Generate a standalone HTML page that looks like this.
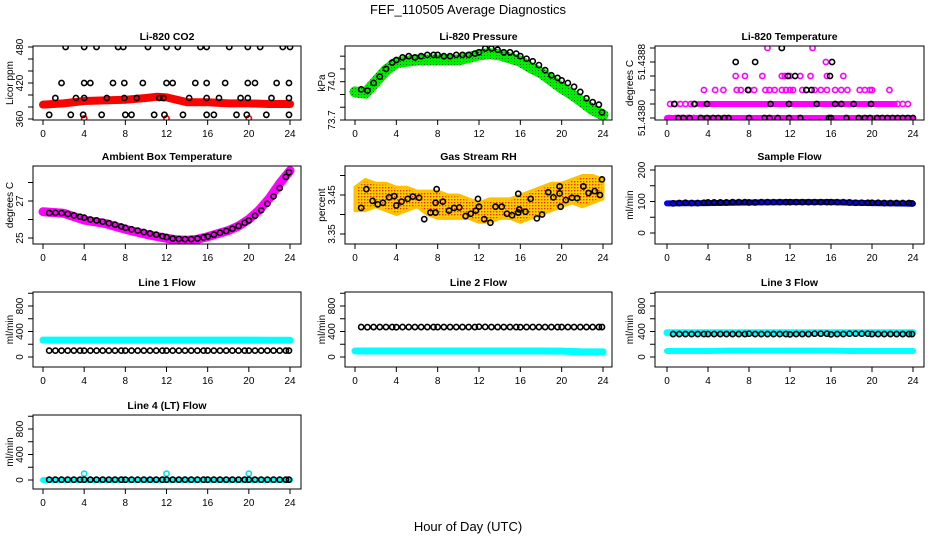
<!DOCTYPE html>
<html><head><meta charset="utf-8"><style>
html,body{margin:0;padding:0;background:#fff;}
svg{display:block;font-family:"Liberation Sans",Arial,sans-serif;}
</style></head><body>
<svg id="chart" width="936" height="540" viewBox="0 0 936 540" xmlns="http://www.w3.org/2000/svg">
<defs>
<pattern id="rhpat" width="3" height="3" patternUnits="userSpaceOnUse">
<rect width="3" height="3" fill="#ffd000"/><rect x="1" y="1" width="1.4" height="1.4" fill="#f03000"/></pattern>
<pattern id="prespat" width="3" height="3" patternUnits="userSpaceOnUse">
<rect width="3" height="3" fill="#00ee00"/><rect x="1" y="1" width="1" height="1" fill="#106010"/></pattern>
</defs>
<text x="468" y="14" font-size="13" text-anchor="middle">FEF_110505  Average Diagnostics</text>
<text x="468" y="531" font-size="13" text-anchor="middle">Hour of Day (UTC)</text>
</svg>
<script>
// ---- data ----
const blackHours=[0.6,1.2,1.8,2.4,3.0,3.6,4.0,4.6,5.2,5.8,6.4,7.0,7.6,8.0,8.6,9.2,9.8,10.4,11.0,11.6,12.0,12.6,13.2,13.8,14.4,15.0,15.6,16.0,16.6,17.2,17.8,18.4,19.0,19.6,20.0,20.6,21.2,21.8,22.4,23.0,23.6,23.9];
const lineHours=[0,2,4,6,8,10,12,14,16,18,20,22,24];
// CO2
const co2RedHours=[0,2,4,6,8,10,11,12,13,14,16,18,20,22,24];
const co2RedVals=[384,386,390,391,392,395,397,396,392,388,388,386,386,385,385];
const co2RedCircleHours=[4,12,20];
const co2RedCircleVals=[361,361,361];
const co2Lvl480=[2.2,4.0,5.2,7.3,7.8,10.2,12.0,13.1,15.3,15.9,18.1,19.9,21.1,23.3,24.0];
const co2Lvl420=[1.8,4.0,4.6,6.8,7.9,9.7,12.0,12.6,14.8,15.9,17.7,19.9,20.6,22.7,23.9];
const co2Lvl395=[1.2,3.2,4.0,6.2,7.9,9.1,11.3,11.7,14.2,15.9,17.1,19.2,19.9,22.2,23.9];
const co2Lvl367=[0.6,2.7,3.9,5.7,8.0,8.6,10.8,11.8,13.6,15.9,16.6,18.8,19.8,21.7,23.9];
// Pressure
const presHours=[0,1,2,3,4,6,8,10,12,13,14,16,17,18,19,20,21,22,23,24];
const presVals=[73.92,73.91,74.0,74.09,74.15,74.17,74.17,74.17,74.21,74.22,74.21,74.16,74.11,74.07,74.01,73.95,73.90,73.84,73.78,73.74];
const presBlack=[73.94,73.93,73.99,74.04,74.1,74.15,74.17,74.19,74.2,74.19,74.2,74.21,74.21,74.21,74.2,74.2,74.21,74.21,74.21,74.22,74.23,74.26,74.26,74.25,74.23,74.23,74.22,74.2,74.18,74.16,74.13,74.09,74.05,74.03,74.01,73.99,73.96,73.92,73.87,73.84,73.82,73.76];
// Li-820 temperature (level index, 0 = 51.4380, step 0.0002)
const tempMag0=[0.2,0.8,1.4,2.0,2.6,3.2];
const tempMag1=[0.3,0.8,1.3,1.8,2.3,2.6,22.5,23.0,23.5];
const tempMag2=[3.6,4.7,5.5,6.8,7.2,8.0,8.5,9.6,10.0,10.5,11.2,11.6,12.0,12.3,13.2,13.6,14.4,15.0,15.6,16.4,17.0,17.6,18.8,19.3,19.8,20.0,21.7];
const tempMag3=[6.7,7.6,9.3,11.2,11.5,12.0,13.0,14.0,15.6,17.2];
const tempMag4=[15.5];
const tempMag5=[9.8,14.2];
const tempBlk0=[1.1,1.6,2.2,3.3,3.9,4.5,5.0,5.6,6.0,8.0,9.5,10.0,10.8,11.9,13.0,15.8,16.0,17.5,18.7,19.3,19.8,20.5,21.0,21.5,22.0,22.5,23.0,23.5,24.0];
const tempBlk1=[0.7,2.7,3.9,10.1,11.9,14.6,16.4,17.0,18.2,19.9];
const tempBlk2=[7.9,13.6,14.1];
const tempBlk3=[11.8,12.5,15.9];
const tempBlk4=[6.7,8.6,16.1];
const tempBlk5=[11.2];
const tempSeg0=[0,24];
const tempSeg1=[3.1,22.2];
// Ambient
const ambHours=[0,2,4,6,8,10,12,13,14,15,16,18,19,20,21,22,23,24];
const ambVals=[26.42,26.34,25.97,25.79,25.47,25.2,24.98,24.9,24.88,24.93,25.07,25.4,25.65,26.01,26.51,27.15,27.95,28.64];
const ambBlack=[26.35,26.36,26.35,26.3,26.22,26.15,26.1,26.0,25.95,25.88,25.8,25.72,25.62,25.55,25.47,25.4,25.32,25.25,25.18,25.1,25.05,24.97,24.95,24.94,24.94,24.97,25.03,25.08,25.18,25.28,25.38,25.5,25.65,25.82,25.95,26.2,26.5,26.85,27.25,27.7,28.3,28.55];
// RH
const rhBandHours=[0,1,2,3,4,5,6,7,8,9,10,11,12,13,14,15,16,17,18,19,20,21,22,23,24];
const rhUpper=[3.47,3.49,3.48,3.48,3.47,3.47,3.46,3.46,3.46,3.45,3.45,3.44,3.43,3.44,3.44,3.44,3.45,3.46,3.47,3.48,3.48,3.49,3.50,3.50,3.49];
const rhLower=[3.41,3.41,3.42,3.41,3.40,3.41,3.42,3.40,3.39,3.39,3.39,3.39,3.38,3.38,3.39,3.39,3.38,3.39,3.40,3.41,3.42,3.43,3.42,3.43,3.44];
const rhBlackHours=[0.6,1.1,1.7,2.2,2.7,3.3,3.8,4.0,4.5,5.1,5.6,6.2,6.7,7.3,7.8,7.8,7.9,8.5,9.1,9.6,10.1,10.7,11.2,11.7,11.9,12.0,12.5,13.1,13.6,14.2,14.7,15.2,15.8,15.8,15.9,16.5,17.0,17.6,18.1,18.7,19.2,19.8,19.8,19.9,20.4,21.0,21.5,22.1,22.6,23.2,23.7,23.9];
const rhBlackVals=[3.417,3.465,3.435,3.426,3.43,3.444,3.447,3.423,3.433,3.44,3.446,3.443,3.388,3.405,3.405,3.43,3.465,3.433,3.41,3.417,3.418,3.396,3.402,3.41,3.44,3.42,3.388,3.379,3.42,3.42,3.402,3.398,3.405,3.453,3.413,3.407,3.44,3.39,3.40,3.457,3.444,3.472,3.454,3.42,3.437,3.443,3.442,3.472,3.455,3.46,3.45,3.49];
// Sample flow
const sampleHours=[0,4,8,12,16,18,20,22,24];
const sampleVals=[94,95,97,98,98,96,95,94,93];
const sampleBlack=[94,95,96,95,95,96,97,97,97,97,98,98,98,97,97,98,98,98,98,98,98,98,98,98,98,98,98,98,98,98,97,96,96,96,96,96,95,95,95,95,95,94];
// Line flows
const l1Cyan=[265,265,265,265,265,265,265,265,265,265,265,262,262];
const l1Black=[100,100,100,100,100,100,100,100,100,100,100,100,100,100,100,100,100,100,100,100,100,100,100,100,100,100,100,100,100,100,100,100,100,100,100,100,100,100,100,100,100,100];
const l2Cyan=[95,95,95,95,95,95,95,95,95,95,92,80,80];
const l2Black=[470,468,470,470,470,470,468,470,470,470,470,470,470,470,470,470,470,470,470,470,475,472,470,470,470,470,470,468,470,470,470,470,470,470,470,470,470,470,470,470,470,470];
const l3CyanHi=[380,380,380,380,380,380,380,380,380,380,380,380,380];
const l3CyanLo=[95,95,95,100,100,100,100,100,100,95,95,95,95];
const l3Black=[360,360,360,360,360,360,360,360,360,360,360,360,360,365,360,360,360,360,360,360,355,360,360,360,365,365,365,355,360,360,365,365,365,365,360,360,360,360,360,360,360,360];
const l4Cyan=[0,0,0,0,0,0,0,0,0,0,0,0,0];
const l4CyanSpikeHours=[4,12,20];
const l4CyanSpikeVals=[100,100,100];
const l4Black=[5,5,5,5,5,5,5,5,5,5,5,5,5,5,5,5,5,5,5,5,5,5,5,5,5,5,5,5,5,5,5,5,5,5,5,5,5,5,5,5,5,5];

// ---- drawing ----
const NS='http://www.w3.org/2000/svg';
const svg=document.getElementById('chart');
function mk(tag,attrs,name,parent){
  const el=document.createElementNS(NS,tag);
  for(const k in attrs) el.setAttribute(k,attrs[k]);
  
  
  (parent||svg).appendChild(el);
  if(attrs.text!==undefined){el.removeAttribute('text');el.textContent=attrs.text;}
  return el;
}
const cols=[{bx0:33,bx1:301,h0:43,h24:290,yl:23,yt:13},{bx0:345,bx1:612,h0:355,h24:603,yl:335,yt:325},{bx0:655,bx1:924,h0:667,h24:913,yl:645,yt:633}];
const rows=[{by0:46,by1:120},{by0:166,by1:244},{by0:292,by1:367},{by0:415,by1:489}];
function panel(name,title,ytitle,c,r,v0,p0,v1,p1,ticks,labels){
  const C=cols[c],R=rows[r];
  const g=mk('g',{},name);
  const P={g:g,xs:h=>C.h0+(C.h24-C.h0)*h/24,ys:v=>p0+(p1-p0)*(v-v0)/(v1-v0)};
  const cp=mk('clipPath',{id:'clip-'+name},'clip',g);
  mk('rect',{x:C.bx0,y:R.by0,width:C.bx1-C.bx0,height:R.by1-R.by0},'clip-rect',cp);
  P.d=mk('g',{'clip-path':'url(#clip-'+name+')'},'plot-area',g);
  mk('text',{x:(C.bx0+C.bx1)/2,y:R.by0-6,'font-size':10.5,'font-weight':'bold','text-anchor':'middle',text:title},'panel-title',g);
  mk('rect',{x:C.bx0,y:R.by0,width:C.bx1-C.bx0,height:R.by1-R.by0,fill:'none',stroke:'#000','stroke-width':1},'plot-box',g);
  for(let h=0;h<=24;h+=4){
    const x=P.xs(h);
    mk('line',{x1:x,x2:x,y1:R.by1,y2:R.by1+5,stroke:'#000'},'x-tick',g);
    mk('text',{x:x,y:R.by1+17,'font-size':10,'text-anchor':'middle',text:String(h)},'x-tick-label',g);
  }
  ticks.forEach(t=>{
    const y=P.ys(t);
    mk('line',{x1:C.bx0-5,x2:C.bx0,y1:y,y2:y,stroke:'#000'},'y-tick',g);
  });
  labels.forEach(l=>{
    const y=P.ys(l[0]);
    mk('text',{x:C.yl,y:y,'font-size':10,'text-anchor':'middle',transform:'rotate(-90 '+C.yl+' '+y+')',text:l[1]},'y-tick-label',g);
  });
  const ym=(R.by0+R.by1)/2;
  mk('text',{x:C.yt,y:ym,'font-size':10,'text-anchor':'middle',transform:'rotate(-90 '+C.yt+' '+ym+')',text:ytitle},'y-axis-title',g);
  return P;
}
function band(P,hs,vs,color,w,name){
  const pts=hs.map((h,i)=>P.xs(h)+','+P.ys(vs[i])).join(' ');
  mk('polyline',{points:pts,fill:'none',stroke:color,'stroke-width':w,'stroke-linejoin':'round','stroke-linecap':'round'},name,P.d);
}
function circles(P,hs,vs,color,name){
  hs.forEach((h,i)=>{
    mk('circle',{cx:P.xs(h),cy:P.ys(vs[i]),r:2.6,fill:'none',stroke:color,'stroke-width':1.6},name,P.d);
  });
}
function levelCircles(P,hs,v,color,name){
  hs.forEach(h=>{
    mk('circle',{cx:P.xs(h),cy:P.ys(v),r:2.6,fill:'none',stroke:color,'stroke-width':1.6},name,P.d);
  });
}

// CO2
let P=panel('co2-panel','Li-820 CO2','Licor ppm',0,0,360,119,480,47,[360,380,400,420,440,460,480],[[360,'360'],[420,'420'],[480,'480']]);
band(P,co2RedHours,co2RedVals,'#ff0000',8,'co2-red-band');
circles(P,co2RedCircleHours,co2RedCircleVals,'#ff0000','co2-red-point');
levelCircles(P,co2Lvl480,480,'#000','co2-black-point');
levelCircles(P,co2Lvl420,420,'#000','co2-black-point');
levelCircles(P,co2Lvl395,395,'#000','co2-black-point');
levelCircles(P,co2Lvl367,367,'#000','co2-black-point');

// Pressure
P=panel('pressure-panel','Li-820 Pressure','kPa',1,0,73.7,120,74.0,81.7,[73.7,73.8,73.9,74.0,74.1,74.2],[[73.7,'73.7'],[74.0,'74.0']]);
band(P,presHours,presVals,'url(#prespat)',11,'pressure-green-band');
circles(P,blackHours,presBlack,'#000','pressure-black-point');

// Li-820 temperature
P=panel('temperature-panel','Li-820 Temperature','degrees C',2,0,0,118,5,48,[0,1,2,3,4,5],[[0,'51.4380'],[4,'51.4388']]);
band(P,tempSeg0,[0,0],'#ff00ff',6,'temp-magenta-line');
band(P,tempSeg1,[1,1],'#ff00ff',6,'temp-magenta-line');
[tempMag0,tempMag1,tempMag2,tempMag3,tempMag4,tempMag5].forEach((a,k)=>levelCircles(P,a,k,'#ff00ff','temp-magenta-point'));
[tempBlk0,tempBlk1,tempBlk2,tempBlk3,tempBlk4,tempBlk5].forEach((a,k)=>levelCircles(P,a,k,'#000','temp-black-point'));

// Ambient
P=panel('ambient-panel','Ambient Box Temperature','degrees C',0,1,25,238,27,201,[25,26,27,28],[[25,'25'],[27,'27']]);
band(P,ambHours,ambVals,'#ff00ff',9,'ambient-magenta-band');
circles(P,blackHours,ambBlack,'#000','ambient-black-point');

// RH
P=panel('rh-panel','Gas Stream RH','percent',1,1,3.45,195,3.35,234,[3.35,3.40,3.45,3.50],[[3.35,'3.35'],[3.45,'3.45']]);
{
  const up=rhBandHours.map((h,i)=>P.xs(h)+','+P.ys(rhUpper[i]));
  const lo=rhBandHours.map((h,i)=>P.xs(h)+','+P.ys(rhLower[i])).reverse();
  mk('polygon',{points:up.concat(lo).join(' '),fill:'url(#rhpat)',stroke:'#ffc000','stroke-width':3,'stroke-linejoin':'round'},'rh-orange-band',P.d);
}
circles(P,rhBlackHours,rhBlackVals,'#000','rh-black-point');

// Sample flow
P=panel('sample-flow-panel','Sample Flow','ml/min',2,1,0,233,200,170,[0,50,100,150,200],[[0,'0'],[100,'100'],[200,'200']]);
band(P,sampleHours,sampleVals,'#0000ff',6,'sample-blue-band');
circles(P,blackHours,sampleBlack,'#000','sample-black-point');

const flowTicks=[0,200,400,600,800,1000];
const flowLabels=[[0,'0'],[400,'400'],[800,'800']];
// Line 1
P=panel('line1-panel','Line 1 Flow','ml/min',0,2,0,357,800,306,flowTicks,flowLabels);
band(P,lineHours,l1Cyan,'#00ffff',7,'line1-cyan-band');
circles(P,blackHours,l1Black,'#000','line1-black-point');
// Line 2
P=panel('line2-panel','Line 2 Flow','ml/min',1,2,0,357,800,306,flowTicks,flowLabels);
band(P,lineHours,l2Cyan,'#00ffff',7,'line2-cyan-band');
circles(P,blackHours,l2Black,'#000','line2-black-point');
// Line 3
P=panel('line3-panel','Line 3 Flow','ml/min',2,2,0,357,800,306,flowTicks,flowLabels);
band(P,lineHours,l3CyanHi,'#00ffff',7,'line3-cyan-band-high');
band(P,lineHours,l3CyanLo,'#00ffff',6,'line3-cyan-band-low');
circles(P,blackHours,l3Black,'#000','line3-black-point');
// Line 4
P=panel('line4-panel','Line 4 (LT) Flow','ml/min',0,3,0,480,800,429,flowTicks,flowLabels);
band(P,lineHours,l4Cyan,'#00ffff',6,'line4-cyan-band');
circles(P,l4CyanSpikeHours,l4CyanSpikeVals,'#00e5e5','line4-cyan-point');
circles(P,blackHours,l4Black,'#000','line4-black-point');
</script>
</body></html>
